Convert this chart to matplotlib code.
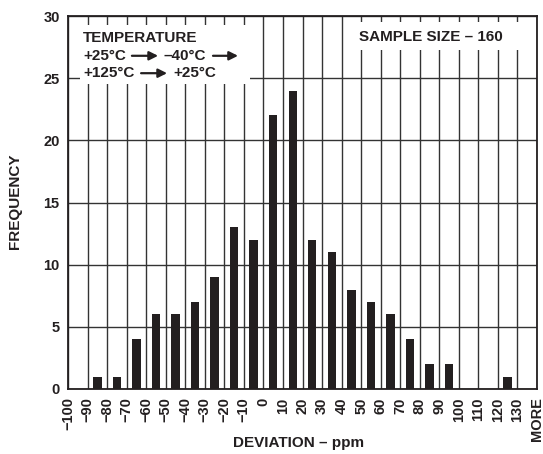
import numpy as np
import matplotlib.pyplot as plt
from matplotlib.patches import Rectangle

plt.rcParams['font.family'] = ['Liberation Sans', 'DejaVu Sans']
plt.rcParams['font.weight'] = 'bold'

# bin edge labels (25 edges -> 24 bins)
edge_labels = ['\u2212100', '\u221290', '\u221280', '\u221270', '\u221260', '\u221250',
               '\u221240', '\u221230', '\u221220', '\u221210', '0', '10', '20', '30',
               '40', '50', '60', '70', '80', '90', '100', '110', '120', '130', 'MORE']
# counts per bin (bin i lies between edge i and edge i+1)
counts = [0, 1, 1, 4, 6, 6, 7, 9, 13, 12, 22, 24, 12, 11, 8, 7, 6, 4, 2, 2, 0, 0, 1, 0]
yticks = [0, 5, 10, 15, 20, 25, 30]

dark = '#231f20'

fig = plt.figure(figsize=(5.43, 4.54), dpi=100)
ax = fig.add_axes([68/543, 1 - 389/454, (537 - 68)/543, (389 - 16)/454])

nbins = len(counts)
ax.set_xlim(0, nbins)
ax.set_ylim(0, 30)
ax.set_axisbelow(True)

ax.bar(np.arange(nbins) + 0.5, counts, width=0.43, color=dark, zorder=2)

ax.set_xticks(np.arange(len(edge_labels)))
ax.set_xticklabels(edge_labels, rotation=90, fontsize=10.5, fontweight='bold')
ax.set_yticks(yticks)
ax.set_yticklabels([str(v) for v in yticks], fontsize=10.5, fontweight='bold')
ax.tick_params(axis='both', length=0, pad=6, colors=dark)
ax.grid(True, color='#333333', linewidth=1.0)
for s in ax.spines.values():
    s.set_linewidth(1.3)
    s.set_color(dark)

# white boxes behind the annotations
ax.add_patch(Rectangle((0.61, 24.54), 8.7, 4.74, facecolor='white', edgecolor='none', zorder=1))
ax.add_patch(Rectangle((14.18, 27.27), 9.21, 2.25, facecolor='white', edgecolor='none', zorder=1))

tkw = dict(fontsize=11, fontweight='bold', color=dark, va='center', ha='left', zorder=3)
ax.text(0.77, 28.24, 'TEMPERATURE', **tkw)
ax.text(0.77, 26.8, '+25°C', **tkw)
ax.text(4.91, 26.8, '\u201340°C', **tkw)
ax.text(0.77, 25.4, '+125°C', **tkw)
ax.text(5.37, 25.4, '+25°C', **tkw)
ax.text(18.55, 28.3, 'SAMPLE SIZE \u2013 160', fontsize=11, fontweight='bold', color=dark,
        va='center', ha='center', zorder=3)

akw = dict(arrowstyle='-|>', color=dark, lw=1.6, mutation_scale=13, shrinkA=0, shrinkB=0)
for x0, x1, yy in [(3.27, 4.61, 26.8), (7.42, 8.70, 26.8), (3.74, 5.07, 25.4)]:
    ax.annotate('', xy=(x1, yy), xytext=(x0, yy), arrowprops=akw, zorder=3)

fig.text(299/543, 1 - 443/454, 'DEVIATION \u2013 ppm', fontsize=11, fontweight='bold',
         color=dark, ha='center', va='center')
fig.text(15/543, 1 - 201/454, 'FREQUENCY', fontsize=11, fontweight='bold', color=dark,
         ha='center', va='center', rotation=90)

fig.savefig('out.png', dpi=100)
